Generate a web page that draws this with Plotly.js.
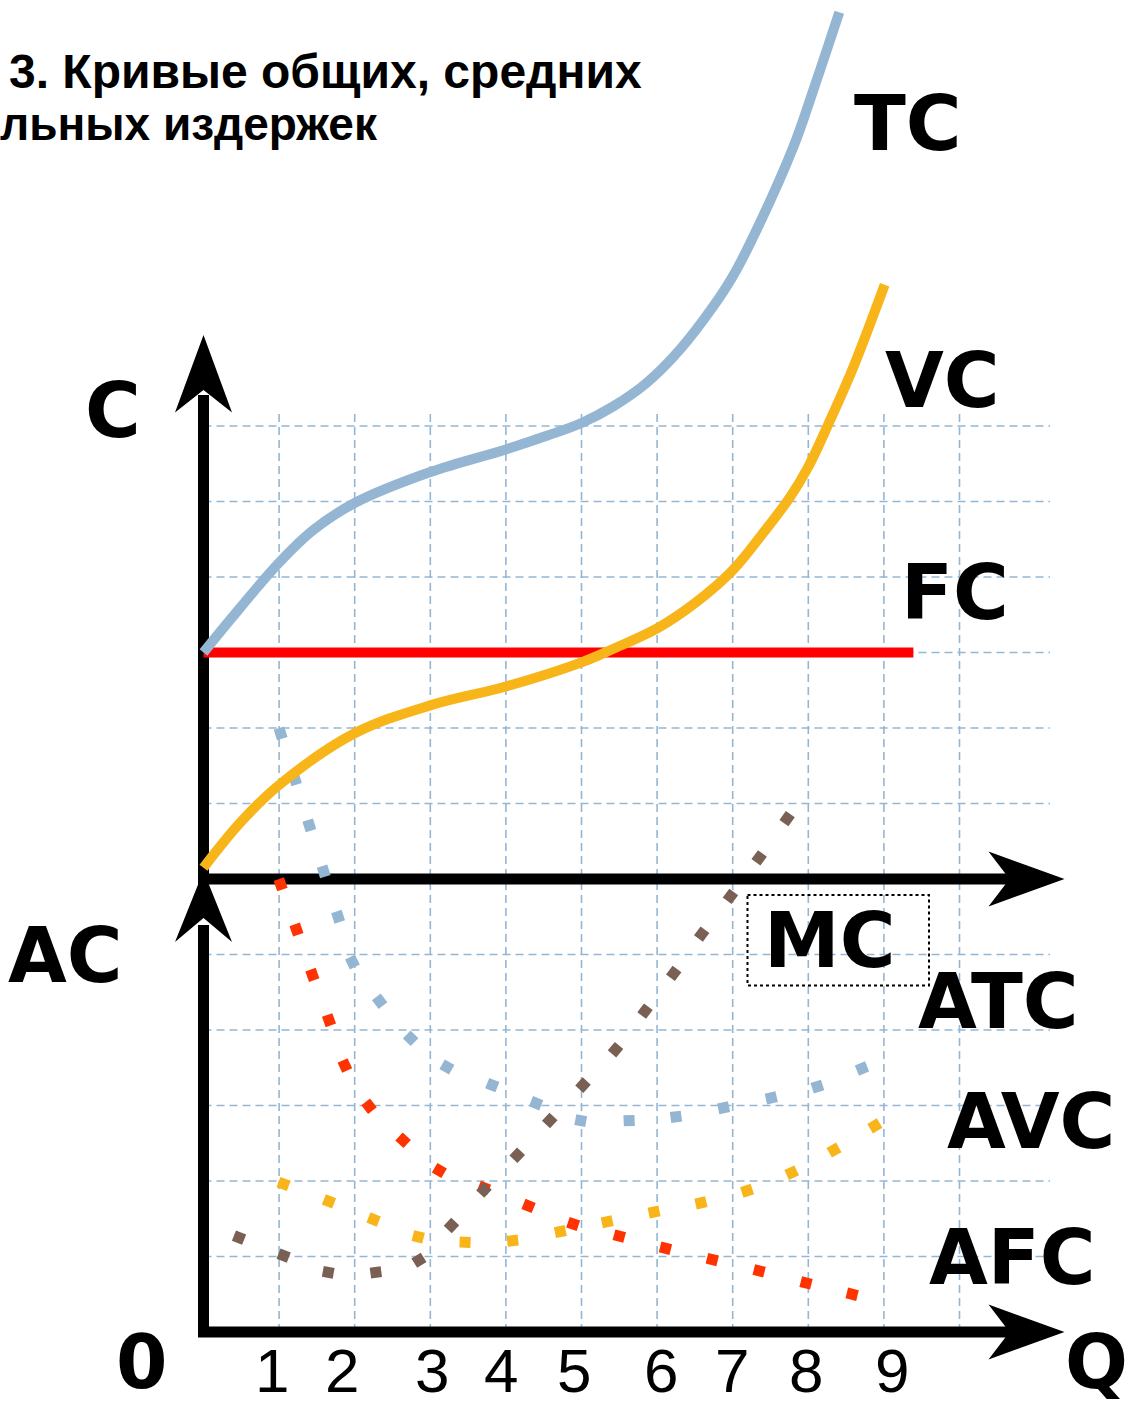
<!DOCTYPE html>
<html><head><meta charset="utf-8">
<script src="https://cdn.plot.ly/plotly-3.0.1.min.js"></script>
<style>html,body{margin:0;padding:0;background:#fff;}#chart{width:1128px;height:1405px;}</style>
</head><body><div id="chart"></div>
<script>
// ---------------- data ----------------
// Upper panel: total, variable and fixed cost (C vs Q)
const tcQ = [0, 0.35, 1, 1.45, 2, 3, 4, 4.54, 5, 5.42, 5.86, 6.3, 6.74, 7, 7.25, 7.8, 8.07, 8.41];
const tcC = [3.0, 3.43, 4.19, 4.62, 4.98, 5.39, 5.69, 5.87, 6.04, 6.26, 6.57, 7.01, 7.58, 7.98, 8.46, 9.69, 10.46, 11.48];
const vcQ = [0, 0.48, 1, 2, 3, 4, 5, 5.4, 6, 6.52, 7, 7.4, 7.76, 8, 8.29, 8.6, 9.01];
const vcC = [0.15, 0.74, 1.245, 1.93, 2.30, 2.55, 2.87, 3.04, 3.32, 3.67, 4.09, 4.58, 5.06, 5.46, 6.08, 6.79, 7.87];
const fcQ = [0, 9.39];
const fcC = [3, 3];
// Lower panel: average and marginal cost (AC vs Q), one value per drawn dot
const atcQ = [1.02, 1.21, 1.40, 1.59, 1.78, 1.97, 2.33, 2.74, 3.22, 3.82, 4.40, 4.99, 5.63, 6.25, 6.88, 7.51, 8.12, 8.71];
const atcC = [7.93, 7.32, 6.71, 6.10, 5.50, 4.90, 4.38, 3.89, 3.51, 3.27, 3.03, 2.80, 2.80, 2.85, 2.97, 3.10, 3.25, 3.49];
const afcQ = [1.02, 1.23, 1.44, 1.66, 1.87, 2.19, 2.64, 3.12, 3.71, 4.30, 4.89, 5.50, 6.11, 6.73, 7.35, 7.97, 8.58];
const afcC = [5.93, 5.33, 4.73, 4.13, 3.53, 2.99, 2.54, 2.14, 1.91, 1.67, 1.43, 1.27, 1.11, 0.96, 0.81, 0.65, 0.50];
const avcQ = [1.06, 1.66, 2.25, 2.84, 3.46, 4.09, 4.72, 5.34, 5.96, 6.58, 7.19, 7.78, 8.34, 8.88];
const avcC = [1.96, 1.73, 1.49, 1.26, 1.19, 1.21, 1.33, 1.46, 1.59, 1.71, 1.87, 2.11, 2.41, 2.73];
const mcQ = [0.47, 1.06, 1.65, 2.28, 2.85, 3.28, 3.71, 4.15, 4.58, 5.02, 5.45, 5.84, 6.22, 6.59, 6.97, 7.35, 7.72];
const mcC = [1.25, 1.01, 0.79, 0.79, 0.95, 1.41, 1.88, 2.34, 2.80, 3.27, 3.74, 4.25, 4.75, 5.27, 5.77, 6.28, 6.80];
// Axis ticks / grid / texts
const qTicks = [1, 2, 3, 4, 5, 6, 7, 8, 9];
const qTickLabels = ['1', '2', '3', '4', '5', '6', '7', '8', '9'];
const gridQ = [1, 2, 3, 4, 5, 6, 7, 8, 9, 10];
const gridLower = [1, 2, 3, 4, 5];
const gridUpper = [1, 2, 3, 4, 5, 6];
const titleLines = ['3. Кривые общих, средних', 'льных издержек'];

// ---------------- geometry / styling ----------------
const W = 1128, H = 1405;
const X0 = 203.5, UX = 75.6, Y0 = 1332, UY = 75.5;   // pixel origin and unit sizes
const OFF = (Y0 - 879) / UY;                          // upper panel origin in lower-panel units
const px2x = p => (p - X0) / UX;
const py2y = p => (Y0 - p) / UY;
const px = p => p / W, py = p => 1 - p / H;

const BLUE = '#94b6d3', ORANGE = '#f7b519', RED = '#ff0000', RED2 = '#ff3300', BROWN = '#7a5f55';

// square dots turned along the curve direction (screen space)
function dotAngles(x, y) {
  return x.map((_, i) => {
    const a = Math.max(0, i - 1), b = Math.min(x.length - 1, i + 1);
    const dxp = (x[b] - x[a]) * UX, dyp = -(y[b] - y[a]) * UY;
    return Math.atan2(dyp, dxp) * 180 / Math.PI;
  });
}
function dots(x, y, color) {
  return {x: x, y: y, mode: 'markers',
    marker: {symbol: 'square', size: 11, color: color, angleref: 'up', angle: dotAngles(x, y), line: {width: 0}}};
}
const traces = [
  {x: fcQ, y: fcC, yaxis: 'y2', mode: 'lines', line: {color: RED, width: 10}},
  {x: vcQ, y: vcC, yaxis: 'y2', mode: 'lines', line: {color: ORANGE, width: 10, shape: 'spline', smoothing: 1}},
  {x: tcQ, y: tcC, yaxis: 'y2', mode: 'lines', line: {color: BLUE, width: 10, shape: 'spline', smoothing: 1}},
  dots(atcQ, atcC, BLUE),
  dots(afcQ, afcC, RED2),
  dots(avcQ, avcC, ORANGE),
  dots(mcQ, mcC, BROWN)
].map(t => Object.assign({hoverinfo: 'skip', showlegend: false, type: 'scatter'}, t));

const shapes = [];
const gridLine = {color: BLUE, width: 1.6, dash: '8px,5px'};
gridQ.forEach(q => shapes.push({type: 'line', xref: 'x', yref: 'y', x0: q, x1: q, y0: 0, y1: py2y(413), line: gridLine, layer: 'below'}));
gridLower.forEach(v => shapes.push({type: 'line', xref: 'x', yref: 'y', x0: 0, x1: px2x(1050), y0: v, y1: v, line: gridLine, layer: 'below'}));
gridUpper.forEach(v => shapes.push({type: 'line', xref: 'x', yref: 'y2', x0: 0, x1: px2x(1050), y0: v, y1: v, line: gridLine, layer: 'below'}));

// axes with arrowheads
const axLine = {color: '#000', width: 11};
function seg(x0, y0, x1, y1) {
  shapes.push({type: 'line', xref: 'x', yref: 'y', x0: px2x(x0), y0: py2y(y0), x1: px2x(x1), y1: py2y(y1), line: axLine, layer: 'below'});
}
function head(pts) {
  const d = pts.map((p, i) => (i ? 'L' : 'M') + px2x(p[0]).toFixed(4) + ',' + py2y(p[1]).toFixed(4)).join(' ') + ' Z';
  shapes.push({type: 'path', xref: 'x', yref: 'y', path: d, fillcolor: '#000', line: {width: 0}, layer: 'below'});
}
seg(X0, 879, X0, 395);             // C axis
seg(X0, 1337, X0, 925);            // AC axis
seg(198, 879, 1015, 879);          // upper Q axis
seg(198, 1332, 1015, 1332);        // lower Q axis
head([[203.5, 335], [175, 412.5], [203.5, 390], [232, 412.5]]);
head([[203.5, 871], [175, 942], [203.5, 918], [232, 942]]);
head([[1064.5, 879], [988.5, 851.5], [1009.5, 879], [988.5, 906.5]]);
head([[1064.5, 1332], [988.5, 1304.5], [1009.5, 1332], [988.5, 1359.5]]);
// MC label box
shapes.push({type: 'rect', xref: 'x', yref: 'y', x0: px2x(747.5), x1: px2x(929), y0: py2y(895), y1: py2y(985.5),
  line: {color: '#000', width: 2, dash: 'dot'}, layer: 'above'});

const annotations = [];
const big = {family: 'DejaVu Sans', size: 76, color: '#000', weight: 'bold'};
function label(t, cx, cy, font, opts) {
  annotations.push(Object.assign({text: t, xref: 'paper', yref: 'paper', x: px(cx), y: py(cy), xanchor: 'center', yanchor: 'middle',
    showarrow: false, font: font || big, borderpad: 0, borderwidth: 0}, opts || {}));
}
label('TC', 908, 123.5);
label('VC', 942, 380.5);
label('FC', 955, 592.5);
label('C', 112.5, 410.5);
label('AC', 65, 955.5);
label('MC', 829.5, 940.5);
label('ATC', 998, 1001);
label('AVC', 1031, 1121.5);
label('AFC', 1012, 1257.5);
const big74 = Object.assign({}, big, {size: 74});
label('0', 142, 1404.5, big74, {yanchor: 'bottom'});
label('Q', 1127.5, 1404.5, big74, {yanchor: 'bottom', xanchor: 'right'});
// Q tick numbers (drawn slightly off the grid, as in the original)
const tickShift = [-7, -13, 1.5, -4.5, -8, 3.5, -1, -2.5, 8];
qTicks.forEach((q, i) => annotations.push({text: qTickLabels[i], xref: 'x', yref: 'paper', x: q, y: py(1404.5),
  xshift: tickShift[i], xanchor: 'center', yanchor: 'bottom', showarrow: false, borderpad: 0, borderwidth: 0,
  font: {family: 'Liberation Sans', size: 62, color: '#000'}}));
// title (cut by the picture's left edge)
const t1 = {family: 'Liberation Sans', size: 48, color: '#000', weight: 'bold'};
const t2 = {family: 'Liberation Sans', size: 46, color: '#000', weight: 'bold'};
annotations.push({text: titleLines[0], xref: 'paper', yref: 'paper', x: px(9), y: py(88 + 0.212 * t1.size),
  xanchor: 'left', yanchor: 'bottom', showarrow: false, font: t1, borderpad: 0, borderwidth: 0});
annotations.push({text: titleLines[1], xref: 'paper', yref: 'paper', x: px(0), y: py(140 + 0.212 * t2.size),
  xanchor: 'left', yanchor: 'bottom', showarrow: false, font: t2, borderpad: 0, borderwidth: 0});

const layout = {
  width: W, height: H, margin: {l: 0, r: 0, t: 0, b: 0}, paper_bgcolor: '#fff', plot_bgcolor: '#fff', showlegend: false,
  xaxis: {range: [px2x(0), px2x(W)], visible: false, fixedrange: true},
  yaxis: {range: [py2y(H), py2y(0)], visible: false, fixedrange: true},
  yaxis2: {range: [py2y(H) - OFF, py2y(0) - OFF], visible: false, overlaying: 'y', fixedrange: true},
  shapes: shapes, annotations: annotations
};
Plotly.newPlot('chart', traces, layout, {staticPlot: true, displayModeBar: false});
</script></body></html>
